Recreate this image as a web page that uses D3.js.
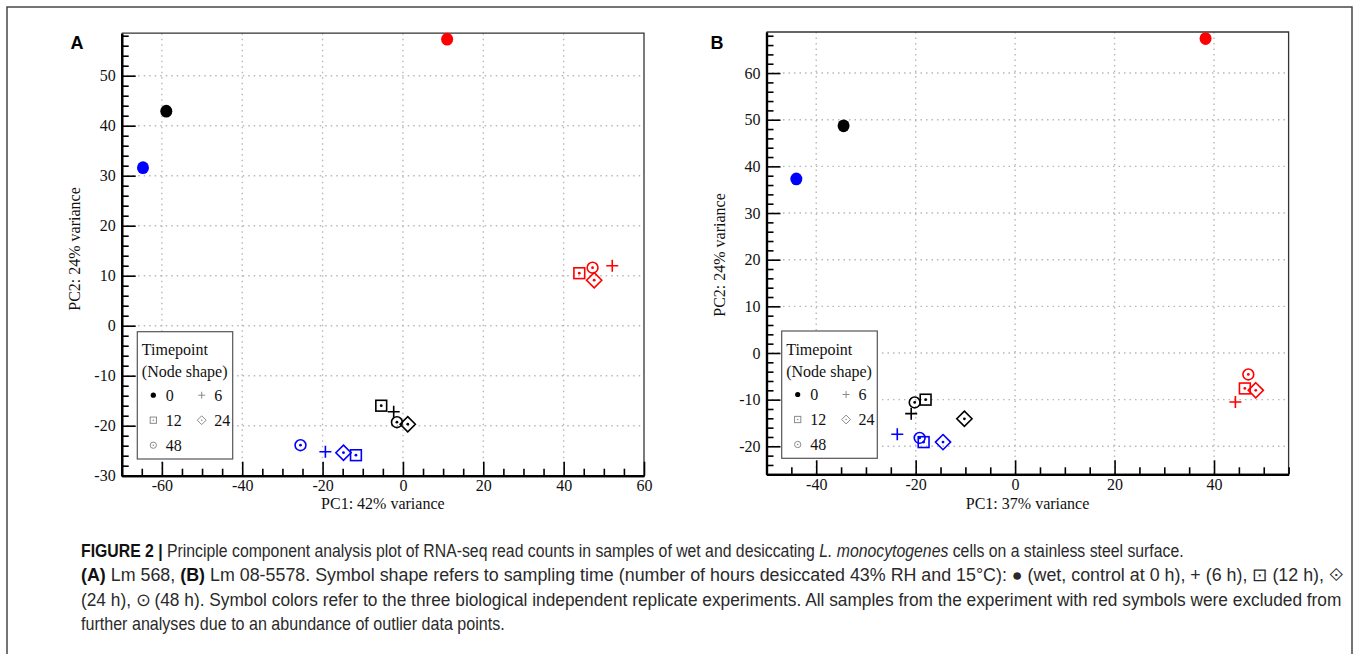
<!DOCTYPE html>
<html><head><meta charset="utf-8">
<script src="https://cdn.jsdelivr.net/npm/d3@7"></script>
<style>body{margin:0;background:#fff} svg{display:block}</style>
</head><body>
<svg id="c" width="1357" height="654"></svg>
<script>
// ---------- DATA ----------
const timepoints = [0, 6, 12, 24, 48];           // hours; shape per timepoint
const replicates = ["black", "blue", "red"];
const replicateColors = ["#000000", "#0000ff", "#ff0000"];

// Panel A (Lm 568) — values ordered as timepoints
const A_black_pc1 = [-58.9, -2.3, -5.4, 1.2, -1.5];
const A_black_pc2 = [42.9, -17.2, -16.0, -19.7, -19.3];
const A_blue_pc1  = [-64.7, -19.3, -11.7, -14.8, -25.5];
const A_blue_pc2  = [31.6, -25.2, -25.9, -25.4, -23.9];
const A_red_pc1   = [11.0, 52.1, 43.9, 47.6, 47.2];
const A_red_pc2   = [57.3, 12.0, 10.5, 9.1, 11.6];

// Panel B (Lm 08-5578)
const B_black_pc1 = [-34.5, -20.9, -18.0, -10.2, -20.2];
const B_black_pc2 = [48.7, -13.0, -10.0, -14.1, -10.6];
const B_blue_pc1  = [-44.0, -23.7, -18.4, -14.5, -19.2];
const B_blue_pc2  = [37.3, -17.4, -19.1, -19.1, -18.2];
const B_red_pc1   = [38.3, 44.3, 46.2, 48.4, 46.9];
const B_red_pc2   = [67.4, -10.5, -7.6, -8.0, -4.6];

const A_xTicks = [-60, -40, -20, 0, 20, 40, 60];
const A_yTicks = [-30, -20, -10, 0, 10, 20, 30, 40, 50];
const B_xTicks = [-40, -20, 0, 20, 40];
const B_yTicks = [-20, -10, 0, 10, 20, 30, 40, 50, 60];

const A_xLabel = "PC1: 42% variance", A_yLabel = "PC2: 24% variance";
const B_xLabel = "PC1: 37% variance", B_yLabel = "PC2: 24% variance";
const legendTitle = ["Timepoint", "(Node shape)"];
const legendItems = [[0, 6], [12, 24], [48]];

// ---------- DRAW ----------
const svg = d3.select("#c");
const SERIF = "'Liberation Serif','Times New Roman',serif";

svg.append("rect").attr("x", 7).attr("y", 7).attr("width", 1345).attr("height", 670)
  .attr("fill", "none").attr("stroke", "#3a3a3a").attr("stroke-width", 1.4);

function marker(g, t, cx, cy, color, s, legend) {
  const sw = legend ? 1 : 1.6;
  const dotR = legend ? 0.8 : 1.4;
  if (t === 0) {
    g.append("ellipse").attr("cx", cx).attr("cy", cy).attr("rx", 6 * s).attr("ry", 6.4 * s).attr("fill", color);
  } else if (t === 6) {
    const a = 6 * s;
    g.append("path").attr("d", `M${cx - a},${cy}H${cx + a}M${cx},${cy - a}V${cy + a}`)
      .attr("stroke", color).attr("stroke-width", sw).attr("fill", "none");
  } else if (t === 12) {
    const h = 5.4 * s;
    g.append("rect").attr("x", cx - h).attr("y", cy - h).attr("width", 2 * h).attr("height", 2 * h)
      .attr("fill", "none").attr("stroke", color).attr("stroke-width", sw);
    g.append("circle").attr("cx", cx).attr("cy", cy).attr("r", dotR).attr("fill", color);
  } else if (t === 24) {
    const h = 7.6 * s;
    g.append("path").attr("d", `M${cx},${cy - h}L${cx + h},${cy}L${cx},${cy + h}L${cx - h},${cy}Z`)
      .attr("fill", "none").attr("stroke", color).attr("stroke-width", sw);
    g.append("circle").attr("cx", cx).attr("cy", cy).attr("r", dotR).attr("fill", color);
  } else {
    g.append("circle").attr("cx", cx).attr("cy", cy).attr("r", 5.4 * s)
      .attr("fill", "none").attr("stroke", color).attr("stroke-width", sw);
    g.append("circle").attr("cx", cx).attr("cy", cy).attr("r", dotR).attr("fill", color);
  }
}

function panel(cfg) {
  const g = svg.append("g");
  const x = d3.scaleLinear().domain(cfg.xDom).range(cfg.xRange);
  const y = d3.scaleLinear().domain(cfg.yDom).range(cfg.yRange);
  const [x0, x1] = cfg.xRange, [y0, y1] = cfg.yRange;

  // gridlines
  const gl = g.append("g").attr("stroke", "#b8b8b8").attr("stroke-width", 1.4).attr("stroke-dasharray", "1.5,4");
  cfg.xTicks.filter(v => x(v) > x0 + 2 && x(v) < x1 - 2).forEach(v =>
    gl.append("line").attr("x1", x(v)).attr("x2", x(v)).attr("y1", y1).attr("y2", y0));
  cfg.yTicks.filter(v => y(v) < y0 - 2 && y(v) > y1 + 2).forEach(v =>
    gl.append("line").attr("y1", y(v)).attr("y2", y(v)).attr("x1", x0).attr("x2", x1));

  // frame top/right
  g.append("path").attr("d", `M${x0},${y1}H${x1}V${y0}`).attr("fill", "none").attr("stroke", "#333").attr("stroke-width", 1.3);

  // minor ticks
  const xMinor = d3.range(Math.ceil(cfg.xDom[0] / 5) * 5, cfg.xDom[1] + 0.01, 5).filter(v => !cfg.xTicks.includes(v));
  const yMinor = d3.range(Math.ceil(cfg.yDom[0] / 2) * 2, cfg.yDom[1] + 0.01, 2).filter(v => !cfg.yTicks.includes(v));

  const gx = g.append("g").attr("transform", `translate(0,${y0})`);
  gx.call(d3.axisBottom(x).tickValues(xMinor).tickSizeInner(-7).tickSizeOuter(0).tickFormat(""));
  const gx2 = g.append("g").attr("transform", `translate(0,${y0})`);
  gx2.call(d3.axisBottom(x).tickValues(cfg.xTicks).tickSizeInner(-14).tickSizeOuter(0).tickPadding(4).tickFormat(d => String(d)));
  const gy = g.append("g").attr("transform", `translate(${x0},0)`);
  gy.call(d3.axisLeft(y).tickValues(yMinor).tickSizeInner(-7).tickSizeOuter(0).tickFormat(""));
  const gy2 = g.append("g").attr("transform", `translate(${x0},0)`);
  gy2.call(d3.axisLeft(y).tickValues(cfg.yTicks).tickSizeInner(-14).tickSizeOuter(0).tickPadding(6).tickFormat(d => String(d)));
  [gx, gx2, gy, gy2].forEach(a => {
    a.selectAll(".tick line").attr("stroke", "#000").attr("stroke-width", 1.6);
    a.select(".domain").attr("stroke", "#000").attr("stroke-width", 2.2);
    a.selectAll("text").attr("font-family", SERIF).attr("font-size", 16).attr("fill", "#111");
  });

  // axis titles
  g.append("text").attr("x", (x0 + x1) / 2 - 0).attr("y", cfg.xTitleY).attr("text-anchor", "middle")
    .attr("font-family", SERIF).attr("font-size", 16).attr("fill", "#111").text(cfg.xLabel);
  g.append("text").attr("transform", `translate(${cfg.yTitleX},${cfg.yTitleCY}) rotate(-90)`)
    .attr("text-anchor", "middle").attr("font-family", SERIF).attr("font-size", 16).attr("fill", "#111").text(cfg.yLabel);

  // panel letter
  g.append("text").attr("x", cfg.letterX).attr("y", 49).attr("text-anchor", "middle")
    .attr("font-family", "'Liberation Sans',Arial,sans-serif").attr("font-weight", "bold").attr("font-size", 18)
    .text(cfg.letter);

  // points
  const pts = g.append("g");
  cfg.series.forEach((s, si) => {
    timepoints.forEach((t, ti) => {
      marker(pts, t, x(s.pc1[ti]), y(s.pc2[ti]), replicateColors[si], 1, false);
    });
  });

  // legend
  const L = cfg.legend;
  const lg = g.append("g");
  lg.append("rect").attr("x", L.x).attr("y", L.y).attr("width", L.w).attr("height", L.h)
    .attr("fill", "#fff").attr("stroke", "#555").attr("stroke-width", 1.2);
  legendTitle.forEach((tt, i) => lg.append("text").attr("x", L.x + 4.5).attr("y", L.y + 23.5 + i * 22)
    .attr("font-family", SERIF).attr("font-size", 16).attr("fill", "#111").text(tt));
  legendItems.forEach((row, r) => {
    row.forEach((t, c) => {
      const mx = L.x + 16 + c * 48.4, my = L.y + 63.5 + r * 25;
      if (t === 0) lg.append("circle").attr("cx", mx).attr("cy", my).attr("r", 2.6).attr("fill", "#000");
      else marker(lg, t, mx, my, "#8a8a8a", 0.58, true);
      lg.append("text").attr("x", mx + 12.5).attr("y", my + 5.5)
        .attr("font-family", SERIF).attr("font-size", 16).attr("fill", "#111").text(String(t));
    });
  });
}

panel({
  letter: "A", letterX: 77,
  xDom: [-70, 60], xRange: [121.7, 644],
  yDom: [-30, 58.5], yRange: [475.7, 33.2],
  xTicks: A_xTicks, yTicks: A_yTicks,
  xLabel: A_xLabel, yLabel: A_yLabel, xTitleY: 508.5, yTitleX: 80, yTitleCY: 249,
  series: [{pc1: A_black_pc1, pc2: A_black_pc2}, {pc1: A_blue_pc1, pc2: A_blue_pc2}, {pc1: A_red_pc1, pc2: A_red_pc2}],
  legend: {x: 137.3, y: 331.7, w: 95.4, h: 127.3}
});
panel({
  letter: "B", letterX: 717,
  xDom: [-50, 55], xRange: [766.5, 1288.6],
  yDom: [-26, 68.8], yRange: [474.3, 32],
  xTicks: B_xTicks, yTicks: B_yTicks,
  xLabel: B_xLabel, yLabel: B_yLabel, xTitleY: 508.5, yTitleX: 725, yTitleCY: 255,
  series: [{pc1: B_black_pc1, pc2: B_black_pc2}, {pc1: B_blue_pc1, pc2: B_blue_pc2}, {pc1: B_red_pc1, pc2: B_red_pc2}],
  legend: {x: 781.7, y: 331, w: 95.6, h: 127.3}
});

// ---------- CAPTION ----------
const captionLines = [
  {w: 1104, parts: [["FIGURE 2 |", "b"], [" Principle component analysis plot of RNA-seq read counts in samples of wet and desiccating ", ""], ["L. monocytogenes", "i"], [" cells on a stainless steel surface.", ""]]},
  {w: 1263, parts: [["(A)", "b"], [" Lm 568, ", ""], ["(B)", "b"], [" Lm 08-5578. Symbol shape refers to sampling time (number of hours desiccated 43% RH and 15°C): \u25CF (wet, control at 0 h), + (6 h), \u22A1 (12 h), \u27D0", ""]]},
  {w: 1262, parts: [["(24 h), \u2299 (48 h). Symbol colors refer to the three biological independent replicate experiments. All samples from the experiment with red symbols were excluded from", ""]]},
  {w: 424, parts: [["further analyses due to an abundance of outlier data points.", ""]]}
];
captionLines.forEach((ln, i) => {
  const t = svg.append("text").attr("x", 0).attr("y", 0)
    .attr("font-family", "'Liberation Sans',Arial,sans-serif").attr("font-size", 17.5).attr("fill", "#2a2a2a");
  ln.parts.forEach(p => {
    const ts = t.append("tspan").text(p[0]);
    if (p[1] === "b") ts.attr("font-weight", "bold").attr("fill", "#111");
    if (p[1] === "i") ts.attr("font-style", "italic");
  });
  const nat = t.node().getComputedTextLength();
  const k = ln.w / nat;
  t.attr("transform", `translate(81,${557 + i * 24.4}) scale(${k},1)`);
});
</script>
</body></html>
